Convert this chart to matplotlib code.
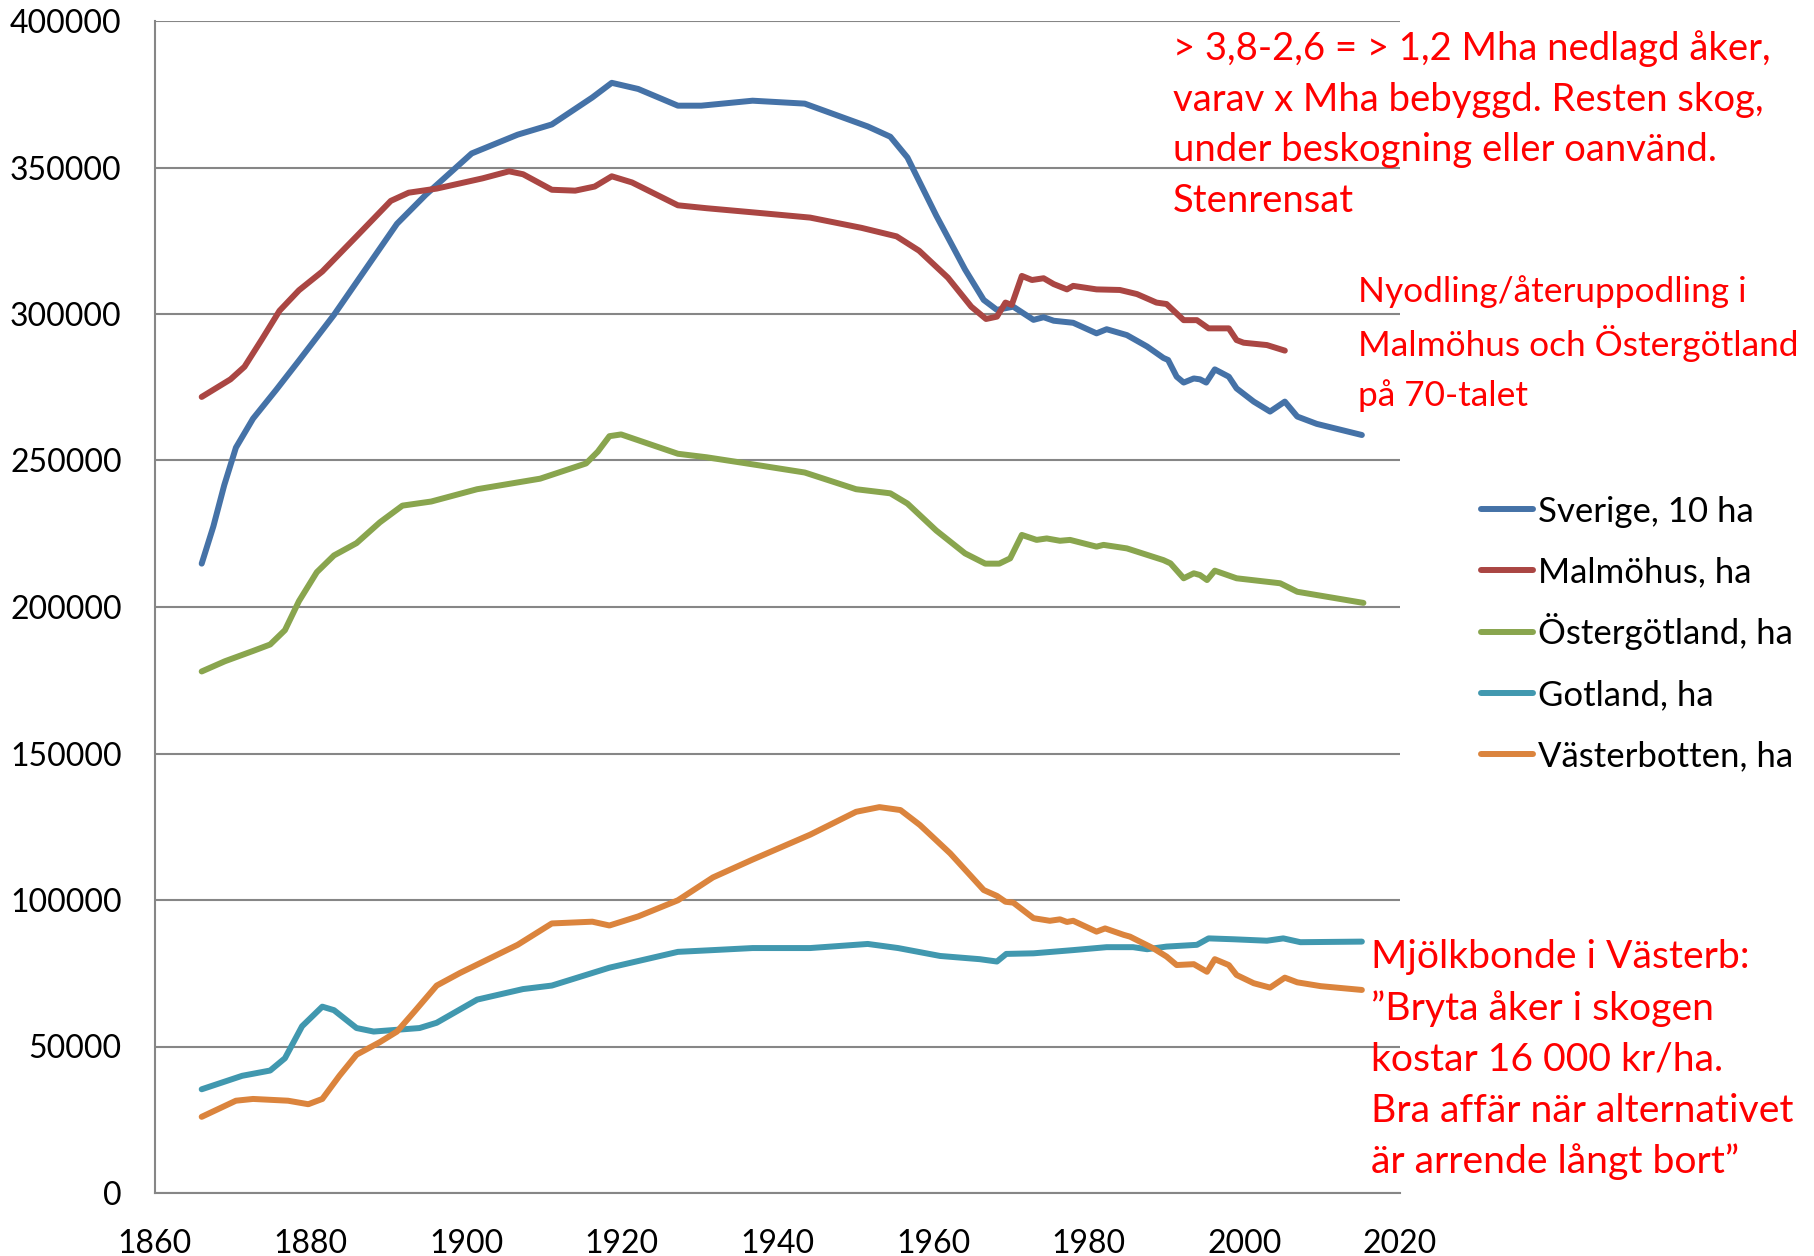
import matplotlib
matplotlib.use("Agg")
import matplotlib.pyplot as plt
from matplotlib.lines import Line2D

plt.rcParams['font.family'] = ['Lato', 'DejaVu Sans']

# ---------------- data ----------------
sverige_years = [1866.0, 1867.5, 1868.9, 1870.4, 1872.6, 1875.6, 1878.5, 1883.0, 1887.4, 1891.1,
                 1894.8, 1900.7, 1906.6, 1911.0, 1916.2, 1918.7, 1922.1, 1927.2, 1930.2, 1936.8,
                 1943.5, 1951.6, 1954.5, 1956.7, 1960.4, 1964.1, 1966.5, 1968.2, 1970.3, 1972.9,
                 1974.2, 1975.5, 1978.0, 1981.0, 1982.3, 1984.9, 1987.5, 1989.6, 1990.2, 1991.3,
                 1992.2, 1993.5, 1994.3, 1995.1, 1996.2, 1998.0, 1999.0, 2001.2, 2003.3, 2005.2,
                 2006.8, 2009.3, 2015.1]
sverige_vals = [214800, 227500, 241600, 254400, 264300, 274200, 284100, 299700, 316600, 330800,
                340700, 354800, 361200, 364700, 373900, 378900, 376800, 371100, 371100, 372800,
                371800, 364000, 360500, 353400, 333600, 315200, 304800, 301400, 302500, 298000,
                298900, 297700, 297000, 293400, 294800, 292800, 288900, 285000, 284300, 278600,
                276600, 278000, 277700, 276600, 281100, 278600, 274600, 270100, 266700, 270100,
                265000, 262500, 258700]

malmo_years = [1866.0, 1869.7, 1871.5, 1873.7, 1876.0, 1878.5, 1881.5, 1885.9, 1890.3, 1892.6,
               1896.2, 1902.1, 1905.5, 1907.3, 1911.0, 1914.0, 1916.5, 1918.7, 1921.3, 1927.2,
               1930.9, 1936.8, 1944.2, 1950.8, 1955.3, 1958.2, 1961.9, 1964.9, 1966.8, 1968.2,
               1969.3, 1970.1, 1971.4, 1972.7, 1974.2, 1975.5, 1977.2, 1978.0, 1981.0, 1984.0,
               1986.2, 1988.7, 1990.0, 1992.2, 1993.9, 1995.4, 1998.0, 1999.0, 1999.9, 2002.9,
               2005.2]
malmo_vals = [271700, 277700, 282000, 291200, 301100, 308100, 314500, 326500, 338600, 341400,
              342800, 346300, 348700, 347700, 342400, 342100, 343500, 347000, 344900, 337100,
              336100, 334700, 332900, 329400, 326500, 321600, 312400, 302500, 298300, 299100,
              303900, 303100, 313000, 311600, 312200, 310200, 308400, 309600, 308400, 308200,
              306800, 303900, 303400, 297900, 297900, 295100, 295100, 291100, 290200, 289400,
              287500]

oster_years = [1866.0, 1869.0, 1872.6, 1874.8, 1876.7, 1878.5, 1880.8, 1883.0, 1885.9, 1888.9,
               1891.8, 1895.5, 1901.4, 1909.5, 1915.4, 1916.9, 1918.4, 1919.9, 1927.2, 1930.9,
               1937.5, 1943.5, 1950.1, 1954.5, 1956.7, 1960.4, 1964.1, 1966.7, 1968.5, 1969.9,
               1971.4, 1973.3, 1974.6, 1976.3, 1977.6, 1981.0, 1981.9, 1984.9, 1989.6, 1990.5,
               1992.2, 1993.5, 1994.3, 1995.2, 1996.2, 1999.0, 2004.6, 2006.8, 2015.3]
oster_vals = [178000, 181500, 185000, 187200, 192100, 202000, 211900, 217600, 221800, 228900,
              234600, 236000, 240200, 243800, 249000, 253000, 258300, 258900, 252300, 251100,
              248400, 245900, 240200, 238800, 235300, 226100, 218300, 214800, 214800, 216600,
              224600, 222900, 223400, 222600, 222900, 220600, 221200, 220000, 216000, 214900,
              209800, 211500, 210900, 209200, 212400, 209800, 208100, 205200, 201400]

gotland_years = [1866.0, 1871.2, 1874.8, 1876.7, 1878.9, 1881.5, 1883.0, 1885.9, 1888.1, 1894.0,
                 1896.2, 1901.4, 1907.3, 1911.0, 1918.4, 1927.2, 1931.7, 1936.8, 1944.2, 1951.6,
                 1955.5, 1960.9, 1966.0, 1968.2, 1969.4, 1972.9, 1978.0, 1982.3, 1985.7, 1987.5,
                 1990.0, 1993.9, 1995.4, 1998.6, 2002.9, 2005.0, 2007.2, 2015.1]
gotland_vals = [35400, 40000, 41800, 46000, 56900, 63600, 62400, 56300, 55100, 56300,
                58100, 66000, 69600, 70800, 76900, 82300, 82900, 83600, 83600, 85000,
                83600, 80900, 79800, 79000, 81600, 81800, 82900, 83900, 83900, 83200,
                84100, 84700, 86900, 86600, 86100, 86900, 85600, 85800]

vaster_years = [1866.0, 1870.4, 1872.6, 1877.1, 1879.7, 1881.5, 1883.7, 1885.9, 1888.9, 1891.1,
                1893.3, 1896.2, 1899.2, 1906.6, 1911.0, 1916.2, 1918.4, 1922.1, 1927.2, 1931.7,
                1936.8, 1944.2, 1950.1, 1953.1, 1955.8, 1958.3, 1962.2, 1966.5, 1968.2, 1969.3,
                1970.3, 1972.9, 1975.0, 1976.3, 1977.2, 1978.0, 1981.0, 1982.1, 1984.5, 1985.3,
                1988.3, 1990.0, 1991.3, 1993.5, 1995.2, 1996.2, 1998.0, 1999.0, 2001.2, 2003.3,
                2005.2, 2006.8, 2009.8, 2015.1]
vaster_vals = [26000, 31500, 32100, 31500, 30300, 32100, 40000, 47200, 51500, 55100,
               61800, 70800, 75100, 84700, 92000, 92600, 91300, 94400, 99900, 107700,
               113800, 122300, 130100, 131700, 130700, 125600, 115900, 103400, 101400, 99400,
               99100, 93800, 92900, 93400, 92500, 92900, 89200, 90300, 88100, 87500,
               83500, 80700, 77800, 78100, 75500, 79800, 77800, 74400, 71600, 70100,
               73500, 71900, 70600, 69300]

series_labels = ["Sverige, 10 ha", "Malmöhus, ha", "Östergötland, ha", "Gotland, ha", "Västerbotten, ha"]
series_colors = ["#4572A7", "#AA4643", "#89A54E", "#4198AF", "#DB843D"]

y_ticks = [0, 50000, 100000, 150000, 200000, 250000, 300000, 350000, 400000]
x_ticks = [1860, 1880, 1900, 1920, 1940, 1960, 1980, 2000, 2020]

note1 = ["> 3,8-2,6 = > 1,2 Mha nedlagd åker,", "varav x Mha bebyggd. Resten skog,",
         "under beskogning eller oanvänd.", "Stenrensat"]
note2 = ["Nyodling/återuppodling i", "Malmöhus och Östergötland", "på 70-talet"]
note3 = ["Mjölkbonde i Västerb:", "”Bryta åker i skogen", "kostar 16 000 kr/ha.",
         "Bra affär när alternativet", "är arrende långt bort”"]

# ---------------- figure ----------------
W, H = 1814, 1256
fig = plt.figure(figsize=(W / 100, H / 100), dpi=100)
ax = fig.add_axes([155 / W, 1 - 1193 / H, (1400 - 155) / W, (1193 - 21) / H])

data = [(sverige_years, sverige_vals), (malmo_years, malmo_vals), (oster_years, oster_vals),
        (gotland_years, gotland_vals), (vaster_years, vaster_vals)]
for (xs, ys), lab, col in zip(data, series_labels, series_colors):
    ax.plot(xs, ys, color=col, lw=4.3, label=lab, solid_capstyle='round', solid_joinstyle='round')

ax.set_xlim(1860, 2020)
ax.set_ylim(0, 400000)
ax.set_xticks(x_ticks)
ax.set_yticks(y_ticks)
ax.set_xticklabels([str(v) for v in x_ticks])
ax.set_yticklabels([str(v) for v in y_ticks])
ax.grid(axis='y', color='#868686', lw=1.5)
ax.set_axisbelow(True)
for s in ['top', 'right']:
    ax.spines[s].set_visible(False)
for s in ['left', 'bottom']:
    ax.spines[s].set_color('#868686')
    ax.spines[s].set_linewidth(1.5)
ax.tick_params(axis='both', length=0, labelsize=23, colors='black')
ax.tick_params(axis='y', pad=24)
ax.tick_params(axis='x', pad=26)

# legend, placed entry by entry like the reference
legend_rows = [509, 570, 632, 693, 754]
leg_fs = 25
cap = 0.72 * leg_fs * 100 / 72
for lab, col, ry in zip(series_labels, series_colors, legend_rows):
    fig.add_artist(Line2D([1481 / W, 1533 / W], [1 - ry / H, 1 - ry / H], color=col, lw=4.3,
                          solid_capstyle='round', transform=fig.transFigure))
    fig.text(1538 / W, 1 - (ry + cap / 2) / H, lab, fontsize=leg_fs, color='black',
             ha='left', va='baseline')

def put_lines(lines, x, y0, dy, size):
    for i, t in enumerate(lines):
        fig.text(x / W, 1 - (y0 + i * dy) / H, t, color='#FF0000', fontsize=size,
                 ha='left', va='center')

put_lines(note1, 1173, 49, 50.5, 27.5)
put_lines(note2, 1358, 292, 52, 25.4)
put_lines(note3, 1371, 957, 51.2, 28.2)

fig.savefig("out.png", dpi=100)
